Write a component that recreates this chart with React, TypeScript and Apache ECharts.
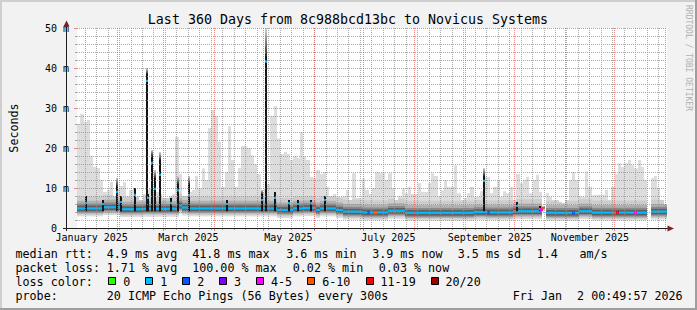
import React, { useEffect, useRef } from 'react';
import * as echarts from 'echarts';

// ---------- time frame ----------
const START_UTC = Date.UTC(2025, 0, 7, 0, 49, 57);
const SPAN_DAYS = 360;
const STEP_DAYS = 2;

// ---------- smoke (outer ping envelope top, ms) per 2-day step ----------
const SMOKE_TOP: (number | null)[] = [
  26, 28.5, 26.5, 27, 18, 15.3, 15, 12, 9, 9.5,
  11.5, 8, 10, 10.5, 11.5, 8, 9.5, 10, 8, 7,
  8.5, 9.5, 10, 10, 9, 8.5, 7.5, 7.5, 8, 8.5,
  22.8, 13.5, 8, 8, 9, 9.5, 13, 10, 14.9, 12,
  25, 29.5, 28, 21.6, 10.3, 14, 25.5, 17, 10.3, 15,
  20.5, 20.5, 20, 18.2, 16, 13.5, 9, 10, 11, 28,
  30.5, 22.4, 18.5, 19, 18.5, 17, 18, 17.5, 24, 18,
  17, 12.8, 12.5, 14.5, 13.5, 14, 10.3, 8, 8.5, 8,
  7.8, 8, 9.5, 7, 13.7, 7.5, 7.5, 12.4, 9.5, 8.5,
  10, 14, 13.7, 14, 12, 13.7, 10, 7, 8, 9.9,
  8.7, 10.3, 8.5, 8.5, 11.2, 9, 9, 11.2, 13.7, 13,
  8, 9.5, 12, 10.3, 10.3, 15.7, 8.7, 7, 7.5, 8.7,
  10.3, 7.8, 7.8, 9.2, 12.8, 12.8, 8.7, 10.3, 12, 7.8,
  9.2, 8.7, 10.3, 7, 13.5, 11.2, 12, 12.8, 8.7, 12,
  13.3, 9, null, 8.7, 7.8, 7, 7, 6.5, 6.2, 7,
  12, 14, 12, 8, 7.8, 14.1, 10.3, 8.2, 8.3, 8.3,
  8.3, 9.5, 7, 10.3, 13.5, 16.2, 15.3, 16.2, 17, 15.7,
  14.9, 17, 15.3, 12, null, 12.5, 13, 10, 7, 6,
];

// ---------- median rtt (ms) per 2-day step ----------
const MEDIAN: (number | null)[] = [
  4.9, 4.9, 4.9, 4.9, 4.9, 4.9, 4.9, 4.9, 5.2, 5.2,
  5.2, 5.2, 5.2, 4.7, 4.7, 4.7, 4.7, 4.7, 4.7, 4.7,
  4.8, 4.8, 4.8, 4.8, 4.8, 4.8, 4.8, 4.8, 4.8, 4.8,
  4.8, 5.6, 5.1, 5.1, 4.9, 4.9, 4.9, 4.9, 4.9, 4.9,
  4.9, 4.9, 4.9, 4.9, 4.9, 4.9, 4.9, 4.9, 4.9, 4.9,
  4.9, 4.9, 4.9, 4.9, 4.9, 4.9, 4.9, 4.9, 4.9, 4.9,
  4.9, 4.5, 4.5, 4.5, 4.5, 4.5, 4.9, 4.9, 4.9, 5.0,
  5.0, 5.0, 5.0, 4.5, 4.9, 4.9, 4.9, 4.9, 4.9, 4.5,
  4.5, 4.1, 4.1, 4.1, 4.1, 4.1, 4.1, 3.9, 3.9, 3.9,
  3.9, 3.9, 3.9, 3.9, 3.9, 4.3, 4.3, 4.3, 4.3, 4.3,
  3.8, 3.8, 3.8, 3.8, 3.8, 3.8, 3.8, 3.8, 3.8, 3.8,
  3.8, 3.8, 3.8, 3.8, 3.8, 3.8, 3.8, 3.8, 3.8, 3.8,
  3.8, 4.0, 4.0, 4.0, 4.0, 3.9, 3.9, 3.9, 3.9, 3.9,
  3.9, 3.9, 3.9, 4.2, 4.2, 4.2, 4.2, 4.2, 4.2, 4.2,
  4.2, 4.2, null, 3.8, 3.8, 3.8, 3.8, 3.8, 3.8, 3.8,
  3.8, 3.8, 3.8, 4.2, 4.2, 4.2, 4.2, 3.85, 3.85, 3.85,
  3.85, 3.85, 3.85, 3.85, 3.85, 3.85, 3.85, 3.85, 3.85, 3.85,
  3.85, 3.85, 3.85, 3.85, null, 4.1, 4.1, 4.1, 4.1, 4.1,
];

// ---------- spikes: [day, median, solid top, faded top] ----------
const SPIKES: [number, number, number, number][] = [
  [5, 6.3, 8, 8], [15, 6, 7, 7], [24, 9, 10.5, 12.5], [26, 6.5, 8, 8],
  [35, 8.3, 10, 10], [42, 36.8, 38.5, 40], [43, 7.5, 8.5, 8.5], [45, 16.3, 18, 19.5],
  [47, 9.8, 12.5, 14.5], [50, 13.3, 17, 19], [57, 6.3, 7.5, 7.5], [61, 9.4, 11, 13],
  [68, 8.3, 11, 13], [91, 6, 7, 7], [112, 7, 8.5, 9.5], [115, 41.6, 43, 50],
  [120, 7.5, 9, 9], [129, 6.2, 7, 7], [134, 6, 7, 7], [142, 6.2, 7, 7],
  [151, 7, 8, 8], [248, 11.8, 13, 15], [268, 5.5, 6.5, 6.5], [282, 4.7, 5.5, 5.5],
];

// ---------- loss-coloured median points: [day, loss class, median] ----------
const LOSS_EVENTS: [number, number, number][] = [
  [177, 2, 3.9], [181, 5, 3.8], [250, 2, 3.9], [282.3, 4, 4.6],
  [284, 5, 5.0], [302, 2, 3.8], [329, 6, 3.9], [340, 4, 3.85],
];

const LOSS_LABELS = ['0', '1', '2', '3', '4-5', '6-10', '11-19', '20/20'];
const LOSS_COLORS = ['#26ff00', '#00b8ff', '#0059ff', '#7e00ff', '#ff00ff', '#ff5500', '#ff0000', '#a10000'];

// ---------- axes ----------
const Y_MAX = 50;
const Y_MAJOR = 10;
const Y_MINOR = 2;
const X_LABELS = ['January 2025', 'March 2025', 'May 2025', 'July 2025', 'September 2025', 'November 2025'];
const X_LABEL_DATES = ['2025-01-16', '2025-03-16', '2025-05-16', '2025-07-16', '2025-09-16', '2025-11-16'];
const MONTH_STARTS = [
  '2025-02-01', '2025-03-01', '2025-04-01', '2025-05-01', '2025-06-01', '2025-07-01',
  '2025-08-01', '2025-09-01', '2025-10-01', '2025-11-01', '2025-12-01', '2026-01-01',
];
const FIRST_SUNDAY = '2025-01-12';

// ---------- legend texts ----------
const TITLE = 'Last 360 Days from 8c988bcd13bc to Novicus Systems';
const LINE_MEDIAN: [number, string][] = [
  [15.5, 'median rtt:'], [106.8, '4.9 ms avg'], [192.2, '41.8 ms max'], [286.2, '3.6 ms min'],
  [372.2, '3.9 ms now'], [457.8, '3.5 ms sd'], [536.8, '1.4'], [579.5, 'am/s'],
];
const LINE_LOSS: [number, string][] = [
  [15.5, 'packet loss:'], [106.8, '1.71 % avg'], [192.2, '100.00 % max'], [292.8, '0.02 % min'], [378.8, '0.03 % now'],
];
const LINE_PROBE: [number, string][] = [
  [15.5, 'probe:'], [106.8, '20 ICMP Echo Pings (56 Bytes) every 300s'], [512.8, 'Fri Jan'], [577.1, '2 00:49:57 2026'],
];
const LOSS_BOX_X = [108.3, 145.2, 182.2, 219.1, 256, 307.2, 365.5, 430.5];

const MONO = 'DejaVu Sans Mono';
const dayOf = (s: string) => (Date.parse(s + 'T00:00:00Z') - START_UTC) / 86400000;

function buildOption() {
  const labelDays = X_LABEL_DATES.map(dayOf);
  const monthDays = MONTH_STARTS.map(dayOf);
  const weekDays: number[] = [];
  for (let d = dayOf(FIRST_SUNDAY); d < SPAN_DAYS; d += 7) weekDays.push(d);
  const minorH: number[] = [];
  const majorH: number[] = [];
  for (let v = Y_MINOR; v <= Y_MAX; v += Y_MINOR) (v % Y_MAJOR === 0 ? majorH : minorH).push(v);

  const smokeData: number[][] = [];
  SMOKE_TOP.forEach((t, k) => {
    const m = MEDIAN[k];
    if (t != null && m != null) smokeData.push([k * STEP_DAYS, t, m]);
  });

  const minorColor = 'rgba(143,143,143,0.75)';
  const majorColor = 'rgba(222,79,79,0.65)';

  const vGrid = (color: string, tick: number) => (params: any, api: any) => {
    const d = api.value(0);
    const x = Math.floor(api.coord([d, 0])[0]) + 0.5;
    const yb = api.coord([d, 0])[1];
    const yt = api.coord([d, Y_MAX])[1];
    return {
      type: 'group',
      children: [
        { type: 'line', shape: { x1: x, y1: yt, x2: x, y2: yb }, style: { stroke: color, lineWidth: 1, lineDash: [1, 1] } },
        { type: 'line', shape: { x1: x, y1: yb, x2: x, y2: yb + tick }, style: { stroke: color, lineWidth: 1 } },
      ],
    };
  };
  const hGrid = (params: any, api: any) => {
    const v = api.value(1);
    const major = api.value(2) === 1;
    const color = major ? majorColor : minorColor;
    const tick = major ? 3 : 2;
    const y = Math.floor(api.coord([0, v])[1]) + 0.5;
    const xl = api.coord([0, v])[0];
    const xr = api.coord([SPAN_DAYS, v])[0];
    return {
      type: 'group',
      children: [
        { type: 'line', shape: { x1: xl, y1: y, x2: xr, y2: y }, style: { stroke: color, lineWidth: 1, lineDash: [1, 1] } },
        { type: 'line', shape: { x1: xl - tick, y1: y, x2: xl, y2: y }, style: { stroke: color, lineWidth: 1 } },
      ],
    };
  };
  const hData = [
    ...minorH.map((v) => [0, v, 0]),
    ...majorH.map((v) => [0, v, 1]),
  ];

  const text = (x: number, y: number, t: string, size: number, extra: any = {}) => ({
    type: 'text',
    x,
    y,
    z: 50,
    style: {
      text: t,
      fill: extra.fill || '#000',
      fontFamily: MONO,
      fontSize: size,
      align: extra.align || 'left',
      verticalAlign: 'middle',
      textAlign: extra.align || 'left',
      textVerticalAlign: 'middle',
    },
    rotation: extra.rotation || 0,
  });

  const graphic: any[] = [
    { type: 'rect', shape: { x: 0, y: 0, width: 697, height: 2 }, style: { fill: '#cfcfcf' } },
    { type: 'rect', shape: { x: 0, y: 0, width: 2, height: 310 }, style: { fill: '#cfcfcf' } },
    { type: 'rect', shape: { x: 0, y: 308, width: 697, height: 2 }, style: { fill: '#9e9e9e' } },
    { type: 'rect', shape: { x: 695, y: 0, width: 2, height: 310 }, style: { fill: '#9e9e9e' } },
    text(348, 19, TITLE, 13.3, { align: 'center' }),
    text(688, 5, 'RRDTOOL / TOBI OETIKER', 8, { fill: '#b0b0b0', rotation: -Math.PI / 2 }),
    { type: 'line', z: 60, shape: { x1: 63, y1: 228.5, x2: 669, y2: 228.5 }, style: { stroke: '#1f1f1f', lineWidth: 1 } },
    { type: 'line', z: 60, shape: { x1: 66.5, y1: 231, x2: 66.5, y2: 25 }, style: { stroke: '#1f1f1f', lineWidth: 1 } },
    { type: 'polygon', z: 61, shape: { points: [[63.5, 26.5], [69.5, 26.5], [66.5, 20.5]] }, style: { fill: '#801f1f' } },
    { type: 'polygon', z: 61, shape: { points: [[667.5, 225.5], [667.5, 231.5], [674, 228.5]] }, style: { fill: '#801f1f' } },
  ];
  LINE_MEDIAN.forEach(([x, t]) => graphic.push(text(x, 254, t, 11.7)));
  LINE_LOSS.forEach(([x, t]) => graphic.push(text(x, 268, t, 11.7)));
  graphic.push(text(15.5, 282, 'loss color:', 11.7));
  LOSS_LABELS.forEach((lab, i) => {
    const bx = LOSS_BOX_X[i];
    graphic.push({
      type: 'rect', z: 50,
      shape: { x: Math.round(bx) + 0.5, y: 277.5, width: 7, height: 7 },
      style: { fill: LOSS_COLORS[i], stroke: '#000', lineWidth: 1 },
    });
    graphic.push(text(bx + 15, 282, lab, 11.7));
  });
  LINE_PROBE.forEach(([x, t]) => graphic.push(text(x, 296, t, 11.7)));

  return {
    animation: false,
    backgroundColor: '#f2f2f2',
    grid: { left: 67, top: 28, width: 600, height: 200, show: true, backgroundColor: '#ffffff', borderWidth: 0 },
    xAxis: {
      type: 'value',
      min: 0,
      max: SPAN_DAYS,
      axisLine: { show: false },
      axisTick: { show: false },
      splitLine: { show: false },
      axisLabel: {
        show: true,
        customValues: labelDays,
        formatter: (v: number) => {
          const i = labelDays.findIndex((d) => Math.abs(d - v) < 0.01);
          return i >= 0 ? X_LABELS[i] : '';
        },
        fontFamily: MONO,
        fontSize: 10,
        color: '#000',
        margin: 4,
      },
    },
    yAxis: {
      type: 'value',
      min: 0,
      max: Y_MAX,
      interval: Y_MAJOR,
      name: 'Seconds',
      nameLocation: 'middle',
      nameGap: 57,
      nameRotate: 90,
      nameTextStyle: { fontFamily: MONO, fontSize: 11.7, color: '#000' },
      axisLine: { show: false },
      axisTick: { show: false },
      splitLine: { show: false },
      axisLabel: {
        fontFamily: MONO,
        fontSize: 10,
        color: '#000',
        margin: 8,
        formatter: (v: number) => (v === 0 ? '{z|0}' : `${v} m`),
        rich: { z: { fontFamily: MONO, fontSize: 10, color: '#000', padding: [0, 12, 0, 0] } },
      },
    },
    graphic,
    series: [
      {
        type: 'custom',
        name: 'smoke',
        z: 2,
        clip: true,
        data: smokeData,
        renderItem: (params: any, api: any) => {
          const d0 = api.value(0);
          const top = api.value(1);
          const med = api.value(2);
          const x0 = Math.round(api.coord([d0, 0])[0]);
          const x1 = Math.round(api.coord([d0 + STEP_DAYS, 0])[0]);
          const Y = (v: number) => api.coord([d0, v])[1];
          const band = (lo: number, hi: number, fill: string) => {
            const h = Math.min(hi, top);
            const yt = Y(h);
            const yb = Y(lo);
            return { type: 'rect', shape: { x: x0, y: yt, width: x1 - x0, height: Math.max(0, yb - yt) }, style: { fill } };
          };
          const ym = Y(med);
          return {
            type: 'group',
            children: [
              band(med - 2.0, top, '#dddddd'),
              band(med - 1.6, med + 3.0, '#cccccc'),
              band(med - 1.3, med + 1.9, '#afafaf'),
              band(med - 1.0, med + 1.2, '#8a8a8a'),
              band(med - 0.7, med + 0.7, '#606060'),
              { type: 'rect', shape: { x: x0, y: ym - 1.1, width: x1 - x0, height: 2.2 }, style: { fill: LOSS_COLORS[1] } },
            ],
          };
        },
      },
      {
        type: 'custom',
        name: 'spikes',
        z: 3,
        clip: true,
        data: SPIKES,
        renderItem: (params: any, api: any) => {
          const d = api.value(0);
          const med = api.value(1);
          const bt = api.value(2);
          const ft = api.value(3);
          const x0 = Math.round(api.coord([d, 0])[0]);
          const w = Math.max(2, Math.round(api.coord([d + 1, 0])[0]) - x0);
          const Y = (v: number) => api.coord([d, v])[1];
          const children: any[] = [
            { type: 'rect', shape: { x: x0, y: Y(bt), width: w, height: Y(4.2) - Y(bt) }, style: { fill: '#151515' } },
          ];
          if (ft > bt) {
            children.push({
              type: 'rect',
              shape: { x: x0, y: Y(ft), width: w, height: Y(bt) - Y(ft) },
              style: {
                fill: new echarts.graphic.LinearGradient(0, 0, 0, 1, [
                  { offset: 0, color: '#d4d4d4' },
                  { offset: 1, color: '#2a2a2a' },
                ]),
              },
            });
          }
          children.push({ type: 'rect', shape: { x: x0, y: Y(med) - 1.1, width: w, height: 2.2 }, style: { fill: LOSS_COLORS[1] } });
          return { type: 'group', children };
        },
      },
      {
        type: 'custom',
        name: 'loss',
        z: 4,
        clip: true,
        data: LOSS_EVENTS,
        renderItem: (params: any, api: any) => {
          const d = api.value(0);
          const idx = api.value(1);
          const v = api.value(2);
          const x0 = Math.round(api.coord([d, 0])[0]);
          const y = api.coord([d, v])[1];
          return { type: 'rect', shape: { x: x0, y: y - 1.5, width: 3, height: 3 }, style: { fill: LOSS_COLORS[idx] } };
        },
      },
      { type: 'custom', name: 'gridWeek', z: 5, clip: false, data: weekDays.map((d) => [d, 0]), renderItem: vGrid(minorColor, 2) },
      { type: 'custom', name: 'gridH', z: 5, clip: false, data: hData, renderItem: hGrid },
      { type: 'custom', name: 'gridMonth', z: 6, clip: false, data: monthDays.map((d) => [d, 0]), renderItem: vGrid(majorColor, 3) },
    ],
  };
}

export default function App() {
  const ref = useRef<HTMLDivElement>(null);
  useEffect(() => {
    document.body.style.margin = '0';
    const chart = echarts.init(ref.current!, null, { renderer: 'svg' });
    chart.setOption(buildOption() as any);
    return () => chart.dispose();
  }, []);
  return <div ref={ref} style={{ width: 697, height: 310 }} />;
}
